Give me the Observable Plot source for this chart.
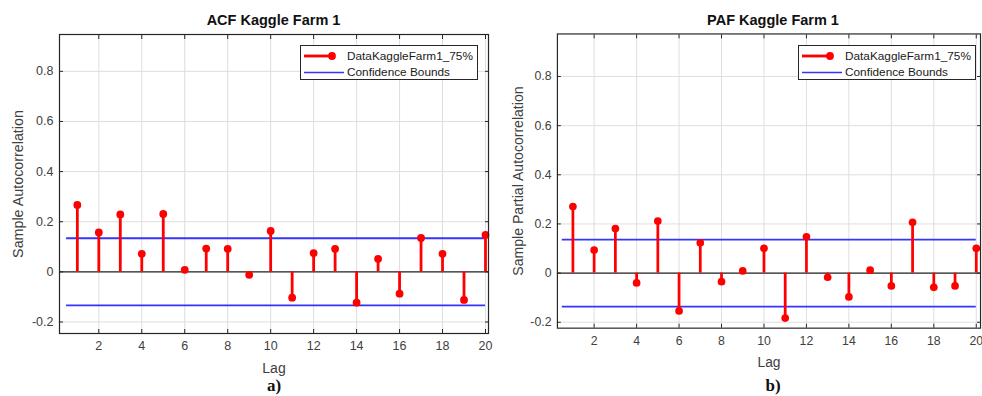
<!DOCTYPE html>
<html>
<head>
<meta charset="utf-8">
<script src="https://cdn.jsdelivr.net/npm/d3@7"></script>
<script src="https://cdn.jsdelivr.net/npm/@observablehq/plot@0.6"></script>
<style>
  html, body { margin: 0; padding: 0; background: #fff; }
  body { width: 982px; height: 396px; overflow: hidden; position: relative; font-family: "Liberation Sans", Arial, sans-serif; }
  .panel { position: absolute; top: 0; }
  .title { position: absolute; top: 12px; font-weight: bold; font-size: 14.5px; color: #111; white-space: nowrap; transform: translateX(-50%); }
  .sub { position: absolute; top: 376px; font-family: "Liberation Serif", "DejaVu Serif", serif; font-weight: bold; font-size: 17px; color: #111; transform: translateX(-50%); }
  .legend { position: absolute; border: 1px solid #262626; background: #fff; box-sizing: border-box; }
  .legend svg { position: absolute; left: 0; top: 0; }
  .legend span { position: absolute; font-size: 11.8px; color: #1a1a1a; white-space: nowrap; line-height: 14px; }
</style>
</head>
<body>
<script>
// ---- data ----
const lags = [1,2,3,4,5,6,7,8,9,10,11,12,13,14,15,16,17,18,19,20];
const acfValues = [0.267,0.157,0.229,0.072,0.231,0.008,0.093,0.092,-0.012,0.163,-0.103,0.075,0.092,-0.123,0.052,-0.087,0.135,0.072,-0.112,0.147];
const pacfValues = [0.271,0.094,0.181,-0.040,0.212,-0.154,0.123,-0.035,0.009,0.101,-0.183,0.148,-0.017,-0.097,0.012,-0.052,0.207,-0.058,-0.052,0.101];
const acfBounds = [0.134, -0.134];
const pacfBounds = [0.136, -0.136];
const boundsLagRange = [0.5, 20];
const xTicks = [2,4,6,8,10,12,14,16,18,20];
const yTicks = [-0.2,0,0.2,0.4,0.6,0.8];
const seriesName = "DataKaggleFarm1_75%";
const boundsName = "Confidence Bounds";
const titles = ["ACF Kaggle Farm 1", "PAF Kaggle Farm 1"];
const yLabels = ["Sample Autocorrelation", "Sample Partial Autocorrelation"];
const xLabel = "Lag";
const subLabels = ["a)", "b)"];

const RED = "#ff0000", BLUE = "#3434ff", AX = "#262626";

function makeChart({values, bounds, xDomain, yDomain, width, marginLeft, yLabel, yLabelDx}) {
  const data = lags.map((l, i) => ({lag: l, v: values[i]}));
  return Plot.plot({
    width, height: 396,
    marginLeft, marginRight: 2, marginTop: 34, marginBottom: 63,
    style: {fontFamily: "'Liberation Sans', Arial, sans-serif", fontSize: "12.5px", color: "#404040", background: "transparent", overflow: "visible"},
    x: {domain: xDomain},
    y: {domain: yDomain},
    marks: [
      Plot.gridX(xTicks, {stroke: "#dedede", strokeOpacity: 1}),
      Plot.gridY(yTicks, {stroke: "#dedede", strokeOpacity: 1}),
      Plot.ruleY([0], {stroke: AX, strokeWidth: 1.1}),
      Plot.ruleY(bounds, {x1: boundsLagRange[0], x2: boundsLagRange[1], stroke: BLUE, strokeWidth: 1.8}),
      Plot.ruleX(data, {x: "lag", y1: 0, y2: "v", stroke: RED, strokeWidth: 2.8}),
      Plot.dot(data, {x: "lag", y: "v", r: 3.9, fill: RED, stroke: "none"}),
      Plot.axisX(xTicks, {tickSize: 0, tickPadding: 8, tickFormat: d => String(d), label: null}),
      Plot.axisX(xTicks, {anchor: "bottom", tickSize: -4, fill: "none", label: null, stroke: AX}),
      Plot.axisX(xTicks, {anchor: "top", tickSize: -4, fill: "none", label: null, stroke: AX}),
      Plot.axisY(yTicks, {tickSize: 0, tickPadding: 6, tickFormat: d => String(d), label: null}),
      Plot.axisY(yTicks, {anchor: "left", tickSize: -4, fill: "none", label: null, stroke: AX}),
      Plot.axisY(yTicks, {anchor: "right", tickSize: -4, fill: "none", label: null, stroke: AX}),
      Plot.text([xLabel], {frameAnchor: "bottom", lineAnchor: "middle", textAnchor: "middle", dy: 35, fontSize: 14, fill: "#404040"}),
      Plot.text([yLabel], {frameAnchor: "left", textAnchor: "middle", lineAnchor: "middle", rotate: -90, dx: yLabelDx, fontSize: 14.3, fill: "#404040"}),
      Plot.frame({stroke: AX, strokeWidth: 1.2})
    ]
  });
}

function addPanel(left, chart) {
  const div = document.createElement("div");
  div.className = "panel";
  div.style.left = left + "px";
  div.appendChild(chart);
  document.body.appendChild(div);
}

function addText(cls, text, x) {
  const d = document.createElement("div");
  d.className = cls;
  d.textContent = text;
  d.style.left = x + "px";
  document.body.appendChild(d);
}

function addLegend(left) {
  const d = document.createElement("div");
  d.className = "legend";
  d.style.left = left + "px";
  d.style.top = "45px";
  d.style.width = "178px";
  d.style.height = "35px";
  const svg = d3.create("svg").attr("width", 178).attr("height", 35);
  svg.append("line").attr("x1", 3).attr("x2", 31).attr("y1", 10).attr("y2", 10).attr("stroke", RED).attr("stroke-width", 2.8);
  svg.append("circle").attr("cx", 31).attr("cy", 10).attr("r", 3.9).attr("fill", RED);
  svg.append("line").attr("x1", 3).attr("x2", 43).attr("y1", 26.5).attr("y2", 26.5).attr("stroke", BLUE).attr("stroke-width", 1.5);
  d.appendChild(svg.node());
  const s1 = document.createElement("span"); s1.textContent = seriesName; s1.style.left = "46px"; s1.style.top = "3px";
  const s2 = document.createElement("span"); s2.textContent = boundsName; s2.style.left = "46px"; s2.style.top = "19px";
  d.appendChild(s1); d.appendChild(s2);
  document.body.appendChild(d);
}

addPanel(0, makeChart({values: acfValues, bounds: acfBounds, xDomain: [0.17, 20.14], yDomain: [-0.246, 0.947], width: 490, marginLeft: 59, yLabel: yLabels[0], yLabelDx: -41}));
addPanel(490, makeChart({values: pacfValues, bounds: pacfBounds, xDomain: [0.27, 20.2], yDomain: [-0.224, 0.973], width: 500, marginLeft: 68, yLabel: yLabels[1], yLabelDx: -40}));

addText("title", titles[0], 273.5);
addText("title", titles[1], 773);
addText("sub", subLabels[0], 274);
addText("sub", subLabels[1], 773);
addLegend(300);
addLegend(798);
</script>
</body>
</html>
